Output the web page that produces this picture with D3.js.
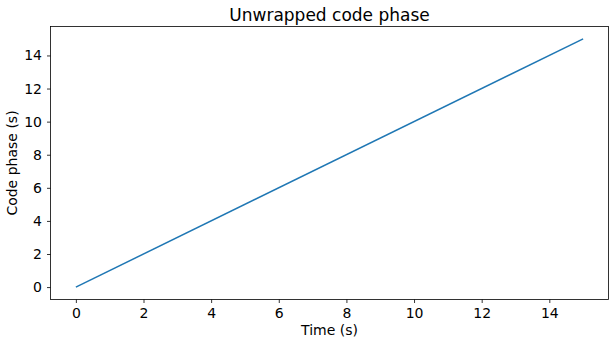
<!DOCTYPE html>
<html><head><meta charset="utf-8">
<script src="https://cdn.jsdelivr.net/npm/d3@7"></script>
<style>body{margin:0;background:#fff;} text{font-family:"DejaVu Sans",sans-serif;fill:#000;}</style>
</head><body><svg id="c" width="615" height="345"></svg>
<script>
const time = [0, 15];
const codePhase = [0, 15];
const xTicks = [0, 2, 4, 6, 8, 10, 12, 14];
const yTicks = [0, 2, 4, 6, 8, 10, 12, 14];

const svg = d3.select("#c");
const L = 50.5, R = 608.5, T = 26.5, B = 299.5;
const x = d3.scaleLinear().domain([-0.75, 15.75]).range([L, R]);
const y = d3.scaleLinear().domain([-0.75, 15.75]).range([B, T]);

const gx = svg.append("g").attr("transform", `translate(0,${B})`)
  .call(d3.axisBottom(x).tickValues(xTicks).tickSize(3.5).tickPadding(5).tickFormat(d3.format("d")));
const gy = svg.append("g").attr("transform", `translate(${L},0)`)
  .call(d3.axisLeft(y).tickValues(yTicks).tickSize(3.5).tickPadding(5).tickFormat(d3.format("d")));
[gx, gy].forEach(g => {
  g.select(".domain").remove();
  g.selectAll("text").style("font-size", "14px").style("font-family", "DejaVu Sans");
  g.selectAll("line").attr("stroke", "#000").attr("stroke-width", 0.8);
});

svg.append("path").datum(time.map((t, i) => [t, codePhase[i]]))
  .attr("fill", "none").attr("stroke", "#1f77b4").attr("stroke-width", 1.5)
  .attr("d", d3.line().x(d => x(d[0])).y(d => y(d[1])));

svg.append("rect").attr("x", L).attr("y", T).attr("width", R - L).attr("height", B - T)
  .attr("fill", "none").attr("stroke", "#000").attr("stroke-width", 0.8);

svg.append("text").attr("x", (L + R) / 2).attr("y", 21).attr("text-anchor", "middle")
  .style("font-size", "17px").text("Unwrapped code phase");
svg.append("text").attr("x", (L + R) / 2).attr("y", 335).attr("text-anchor", "middle")
  .style("font-size", "14px").text("Time (s)");
svg.append("text").attr("transform", `translate(17,${(T + B) / 2}) rotate(-90)`).attr("text-anchor", "middle")
  .style("font-size", "14px").text("Code phase (s)");
</script></body></html>
